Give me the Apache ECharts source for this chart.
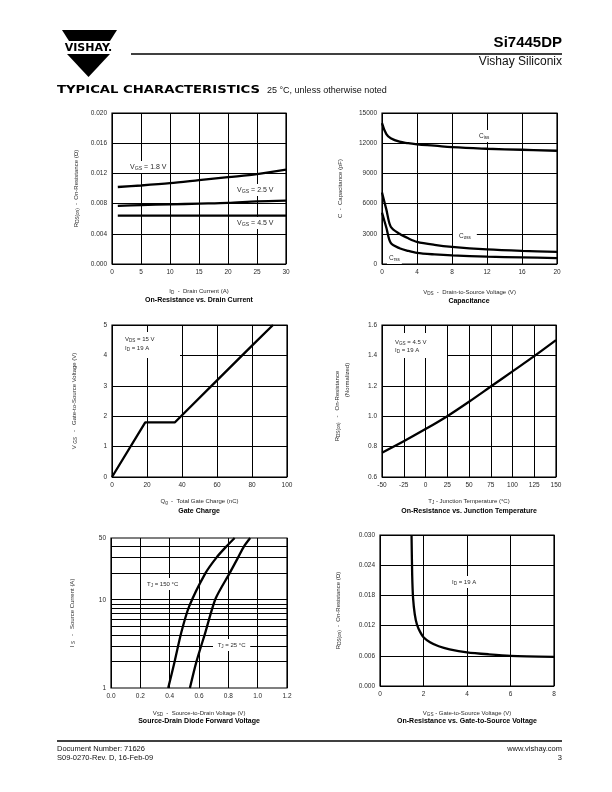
<!DOCTYPE html>
<html>
<head>
<meta charset="utf-8">
<script src="https://cdn.jsdelivr.net/npm/echarts@6/dist/echarts.min.js"></script>
<style>
html, body { margin: 0; padding: 0; background: #fff; }
#page { width: 612px; height: 792px; }
</style>
</head>
<body>
<div id="page"></div>
<script>
// On-Resistance vs. Drain Current
const idCurrent = [1, 5, 10, 15, 20, 25, 30];
const rVgs18 = [0.0102, 0.0104, 0.0107, 0.0111, 0.0115, 0.0119, 0.0125];
const rVgs25 = [0.0077, 0.0078, 0.0079, 0.0080, 0.0081, 0.0083, 0.0084];
const rVgs45 = [0.0064, 0.0064, 0.0064, 0.0064, 0.0064, 0.0064, 0.0064];

// Capacitance
const vds = [0, 0.5, 1, 2, 3, 4, 6, 8, 12, 16, 20];
const ciss = [14000, 12900, 12500, 12150, 12000, 11880, 11750, 11600, 11450, 11350, 11250];
const coss = [7100, 5400, 3700, 3000, 2550, 2200, 1900, 1700, 1450, 1300, 1200];
const crss = [5100, 3600, 2100, 1570, 1300, 1100, 950, 850, 730, 660, 580];

// Gate Charge
const qg = [0, 19, 36, 40, 60, 80, 92];
const vgsQ = [0, 1.8, 1.8, 2.03, 3.18, 4.32, 5.0];

// On-Resistance vs. Junction Temperature
const tj = [-50, -25, 0, 25, 50, 75, 100, 125, 150];
const rNorm = [0.76, 0.835, 0.915, 1.0, 1.095, 1.195, 1.295, 1.395, 1.5];

// Source-Drain Diode Forward Voltage
const is150 = [1, 2, 4.3, 8.4, 20, 30, 40, 50];
const vsd150 = [0.39, 0.434, 0.48, 0.533, 0.644, 0.719, 0.786, 0.843];
const is25 = [1, 2, 4.3, 10.2, 20, 30, 40, 50];
const vsd25 = [0.538, 0.583, 0.644, 0.712, 0.809, 0.866, 0.906, 0.949];
const isGrid = [2, 3, 4, 5, 6, 7, 8, 9, 10, 20, 30, 40];
const isLabels = [1, 10, 50];

// On-Resistance vs. Gate-to-Source Voltage
const vgsR = [1.45, 1.48, 1.52, 1.6, 1.7, 1.85, 2, 2.3, 2.7, 3.2, 4, 5, 6, 8];
const rVgs = [0.0300, 0.0220, 0.0175, 0.0142, 0.0122, 0.0107, 0.0097, 0.0087, 0.0079, 0.0073, 0.0067, 0.0063, 0.0060, 0.0058];

const F = '"Liberation Sans", Arial, sans-serif';
const TXT = '#2a2a2a';
const sub = { s: { fontSize: 4.6, fontFamily: F, color: TXT, padding: [3, 0, 0, 0] } };
const sub7 = { s: { fontSize: 5.2, fontFamily: F, color: TXT, padding: [3, 0, 0, 0] } };

const pairs = (xs, ys) => xs.map((x, i) => [x, ys[i]]);

const grids = [
  { left: 112, top: 113, width: 174, height: 151 },
  { left: 382, top: 113, width: 175, height: 151 },
  { left: 112, top: 325, width: 175, height: 152 },
  { left: 382, top: 325, width: 174, height: 152 },
  { left: 111, top: 538, width: 176, height: 150 },
  { left: 380, top: 535, width: 174, height: 151 }
].map(g => Object.assign(g, { show: true, borderColor: '#000', borderWidth: 1.2, backgroundColor: '#fff' }));

function axis(i, min, max, interval, digits, name, gap, extra) {
  return Object.assign({
    gridIndex: i, type: 'value', min, max, interval,
    name, nameLocation: 'middle', nameGap: gap,
    nameTextStyle: { fontSize: 6, fontFamily: F, color: TXT, rich: sub },
    axisLine: { show: false }, axisTick: { show: false },
    axisLabel: { fontSize: 6.5, fontFamily: F, color: TXT, margin: 5, formatter: v => v.toFixed(digits) },
    splitLine: { show: true, lineStyle: { color: '#000', width: 1 } }
  }, extra || {});
}

const xAxes = [
  axis(0, 0, 30, 5, 0, 'I{s|D}  -  Drain Current (A)', 23),
  axis(1, 0, 20, 4, 0, 'V{s|DS}  -  Drain-to-Source Voltage (V)', 24),
  axis(2, 0, 100, 20, 0, 'Q{s|g}  -  Total Gate Charge (nC)', 20),
  axis(3, -50, 150, 25, 0, 'T{s|J} - Junction Temperature (°C)', 20),
  axis(4, 0, 1.2, 0.2, 1, 'V{s|SD}  -  Source-to-Drain Voltage (V)', 21),
  axis(5, 0, 8, 2, 0, 'V{s|GS} - Gate-to-Source Voltage (V)', 23)
];

const yAxes = [
  axis(0, 0, 0.02, 0.004, 3, 'R{s|DS(on)}  -  On-Resistance (Ω)', 32),
  axis(1, 0, 15000, 3000, 0, 'C  -  Capacitance (pF)', 39),
  axis(2, 0, 5, 1, 0, 'V {s|GS}   -   Gate-to-Source Voltage (V)', 34),
  axis(3, 0.6, 1.6, 0.2, 1, '', 40),
  {
    gridIndex: 4, type: 'log', logBase: 10, min: 1, max: 50,
    name: 'I {s|S}   -   Source Current (A)', nameLocation: 'middle', nameGap: 35,
    nameTextStyle: { fontSize: 6, fontFamily: F, color: TXT, rich: sub },
    axisLine: { show: false }, axisTick: { show: false },
    axisLabel: { fontSize: 6.5, fontFamily: F, color: TXT, margin: 5, customValues: isLabels, formatter: v => String(Math.round(v)) },
    splitLine: { show: false }
  },
  axis(5, 0, 0.03, 0.006, 3, 'R{s|DS(on)}  -  On-Resistance (Ω)', 38)
];

const lineStyle = { color: '#000', width: 2.3 };
function curve(i, data, smooth) {
  return {
    type: 'line', xAxisIndex: i, yAxisIndex: i, data, smooth: smooth || 0,
    showSymbol: false, symbol: 'none', lineStyle, silent: true, clip: true, z: 5
  };
}

const series = [
  curve(0, pairs(idCurrent, rVgs18), 0.3),
  curve(0, pairs(idCurrent, rVgs25), 0.3),
  curve(0, pairs(idCurrent, rVgs45), 0),
  curve(1, pairs(vds, ciss), 0.4),
  curve(1, pairs(vds, coss), 0.3),
  curve(1, pairs(vds, crss), 0.3),
  curve(2, pairs(qg, vgsQ), 0),
  curve(3, pairs(tj, rNorm), 0.3),
  Object.assign(curve(4, pairs(vsd150, is150), 0.25), {
    markLine: {
      silent: true, symbol: 'none', label: { show: false }, animation: false,
      lineStyle: { color: '#000', width: 1, type: 'solid' },
      emphasis: { disabled: true },
      data: isGrid.map(v => ({ yAxis: v }))
    }
  }),
  curve(4, pairs(vsd25, is25), 0.25),
  curve(5, pairs(vgsR, rVgs), 0.25)
];

function txt(x, y, text, o) {
  o = o || {};
  const el = {
    type: 'text', x, y, z: 100, rotation: o.rot || 0, scaleX: o.sx || 1,
    style: {
      text, fill: o.color || TXT, fontSize: o.size || 6, fontFamily: o.family || F,
      fontWeight: o.bold ? 'bold' : 'normal', align: o.align || 'left',
      verticalAlign: 'middle', rich: o.rich || sub
    }
  };
  if (o.bg) { el.style.backgroundColor = o.bg; el.style.padding = o.pad || [1, 2]; }
  return el;
}
function box(x, y, w, h) {
  return { type: 'rect', z: 90, shape: { x, y, width: w, height: h }, style: { fill: '#fff' } };
}
function hline(x1, x2, y, w) {
  return { type: 'line', z: 100, shape: { x1, y1: y, x2, y2: y }, style: { stroke: '#000', lineWidth: w } };
}

const graphic = [
  // header
  { type: 'polygon', z: 100, shape: { points: [[62, 30], [117, 30], [110, 41], [69, 41]] }, style: { fill: '#000' } },
  txt(88.5, 48, 'VISHAY.', { size: 11, bold: true, family: '"DejaVu Sans", sans-serif', align: 'center', color: '#000' }),
  { type: 'polygon', z: 100, shape: { points: [[67, 54], [110, 54], [88.5, 77]] }, style: { fill: '#000' } },
  hline(131, 562, 54, 1.3),
  txt(562, 43, 'Si7445DP', { size: 15, bold: true, align: 'right', color: '#000' }),
  txt(562, 62, 'Vishay Siliconix', { size: 12, align: 'right', color: '#111' }),
  txt(57, 90, 'TYPICAL CHARACTERISTICS', { size: 11, sx: 1.2, bold: true, family: '"DejaVu Sans", sans-serif', color: '#000' }),
  txt(267, 90.5, '25 °C, unless otherwise noted', { size: 9, color: '#111' }),

  // chart titles
  txt(199, 300, 'On-Resistance vs. Drain Current', { size: 7, bold: true, align: 'center', color: '#000' }),
  txt(469, 301, 'Capacitance', { size: 7, bold: true, align: 'center', color: '#000' }),
  txt(199, 511, 'Gate Charge', { size: 7, bold: true, align: 'center', color: '#000' }),
  txt(469, 511, 'On-Resistance vs. Junction Temperature', { size: 7, bold: true, align: 'center', color: '#000' }),
  txt(199, 721, 'Source-Drain Diode Forward Voltage', { size: 7, bold: true, align: 'center', color: '#000' }),
  txt(467, 721, 'On-Resistance vs. Gate-to-Source Voltage', { size: 7, bold: true, align: 'center', color: '#000' }),

  // chart 1 labels
  txt(127, 167, 'V{s|GS} = 1.8 V', { size: 7, rich: sub7, bg: '#fff', pad: [2, 3] }),
  txt(234, 190, 'V{s|GS} = 2.5 V', { size: 7, rich: sub7, bg: '#fff', pad: [2, 3] }),
  txt(234, 223, 'V{s|GS} = 4.5 V', { size: 7, rich: sub7, bg: '#fff', pad: [2, 3] }),

  // chart 2 labels
  txt(476, 136, 'C{s|iss}', { size: 6.5, bg: '#fff', pad: [2, 3] }),
  txt(453, 236, 'C{s|oss}', { size: 6.5, bg: '#fff', pad: [2, 6] }),
  txt(387, 258, 'C{s|rss}', { size: 6.5, bg: '#fff', pad: [2, 2] }),

  // chart 3 labels
  box(113, 332, 67, 26),
  txt(125, 339, 'V{s|DS} = 15 V'),
  txt(125, 348, 'I{s|D} = 19 A'),

  // chart 4 labels
  box(383, 333, 64, 25),
  txt(395, 342, 'V{s|GS} = 4.5 V'),
  txt(395, 350, 'I{s|D} = 19 A'),
  txt(337, 406, 'R{s|DS(on)}   -   On-Resistance', { rot: Math.PI / 2, align: 'center' }),
  txt(347, 380, '(Normalized)', { rot: Math.PI / 2, align: 'center' }),

  // chart 5 labels
  txt(145, 584, 'T{s|J} = 150 °C', { bg: '#fff', pad: [2, 2] }),
  txt(213, 645, ' T{s|J} = 25 °C ', { bg: '#fff', pad: [2, 3] }),

  // chart 6 labels
  txt(449, 582, 'I{s|D} = 19 A', { bg: '#fff', pad: [2, 3] }),

  // footer
  hline(57, 562, 741, 1.6),
  txt(57, 749, 'Document Number: 71626', { size: 7.5, color: '#111' }),
  txt(57, 758, 'S09-0270-Rev. D, 16-Feb-09', { size: 7.5, color: '#111' }),
  txt(562, 749, 'www.vishay.com', { size: 7.5, align: 'right', color: '#111' }),
  txt(562, 758, '3', { size: 7.5, align: 'right', color: '#111' })
];

const chart = echarts.init(document.getElementById('page'), null, { renderer: 'canvas' });
chart.setOption({
  animation: false,
  backgroundColor: '#fff',
  textStyle: { fontFamily: F },
  grid: grids,
  xAxis: xAxes,
  yAxis: yAxes,
  series,
  graphic
});
</script>
</body>
</html>
